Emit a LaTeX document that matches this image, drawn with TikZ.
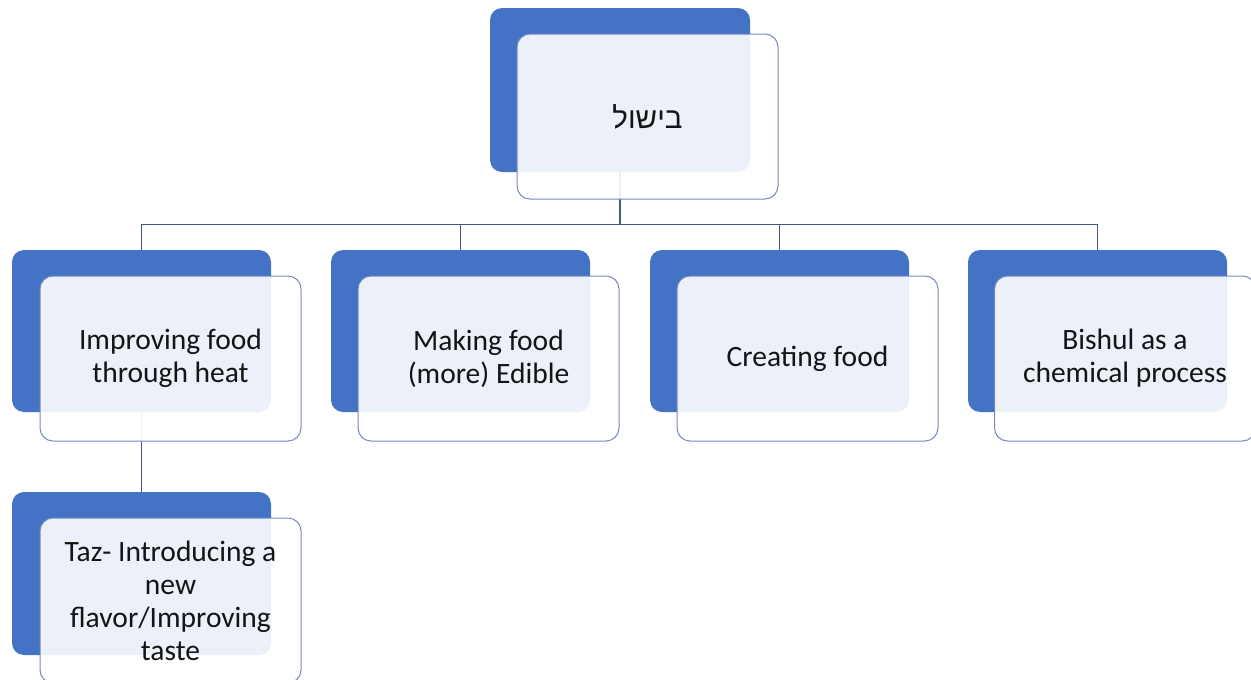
\documentclass[tikz,border=0pt]{standalone}
\usepackage{fontspec}
\setmainfont{Carlito}
\newfontfamily\hebfont[Script=Hebrew]{Liberation Sans}
\TeXXeTstate=1
\definecolor{backblue}{RGB}{68,114,196}
\definecolor{frontedge}{RGB}{118,138,188}
\definecolor{linkcol}{RGB}{70,88,135}
\definecolor{txtcol}{RGB}{20,20,20}
\begin{document}
\begin{tikzpicture}[x=1pt,y=-1pt,
  backbox/.style={rectangle,rounded corners=12pt,fill=backblue,draw=none,
    minimum width=259pt,minimum height=162pt,inner sep=0pt},
  frontbox/.style={rectangle,rounded corners=13pt,fill=white,fill opacity=0.9,
    text opacity=1,draw=frontedge,line width=1pt,minimum width=261pt,
    minimum height=165pt,inner sep=0pt,align=center,text=txtcol,
    font=\fontsize{29.5pt}{33pt}\selectfont},
  link/.style={draw=linkcol,line width=1.3pt}]
\useasboundingbox (0,0) rectangle (1251,680);
% back boxes
\node[backbox,minimum width=260pt,minimum height=164pt] (topB) at (620,90) {};
\node[backbox] (b1) at (141.5,331) {};
\node[backbox] (b2) at (460.5,331) {};
\node[backbox] (b3) at (779.5,331) {};
\node[backbox] (b4) at (1097.5,331) {};
\node[backbox,minimum height=163pt] (c1) at (141.5,573.5) {};
% connectors
\draw[link] (topB.south) -- ++(0,52) -| (b1.north);
\draw[link] (topB.south) -- ++(0,52) -| (b2.north);
\draw[link] (topB.south) -- ++(0,52) -| (b3.north);
\draw[link] (topB.south) -- ++(0,52) -| (b4.north);
\draw[link] (b1.south) -- (c1.north);
% front boxes
\node[frontbox] (topF) at (647.5,116.5) {\hebfont\beginR בישול\endR};
\node[frontbox] (f1) at (170.5,358.5) {Improving food\\through heat};
\node[frontbox] (f2) at (488.5,358.5) {Making food\\(more) Edible};
\node[frontbox] (f3) at (807.5,358.5) {Creating food};
\node[frontbox] (f4) at (1125,358.5) {Bishul as a\\chemical process};
\node[frontbox] (g1) at (170.5,600.5) {Taz- Introducing a\\new\\flavor/Improving\\taste};
\end{tikzpicture}
\end{document}
